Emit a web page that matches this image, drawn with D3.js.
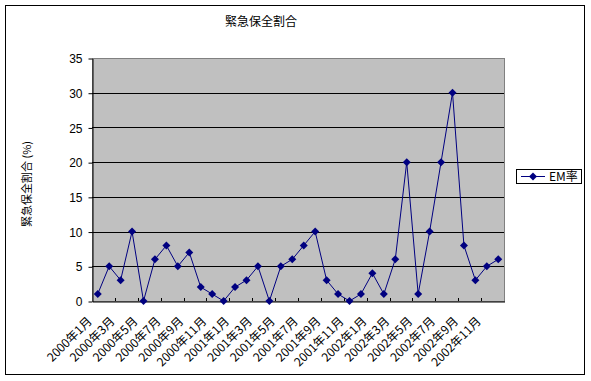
<!DOCTYPE html>
<html><head><meta charset="utf-8">
<script src="https://cdn.jsdelivr.net/npm/d3@7"></script>
<style>
html,body{margin:0;padding:0;background:#fff;}
svg text{font-family:"Noto Sans CJK JP","DejaVu Sans",sans-serif;fill:#000;}
</style></head>
<body><svg id="c" width="591" height="381"></svg>
<script>
const months = [];
const years = ["2000","2001","2002"];
years.forEach(y => { for (let m = 1; m <= 12; m++) months.push(y + "年" + m + "月"); });
const emValues = [1,5,3,10,0,6,8,5,7,2,1,0,2,3,5,0,5,6,8,10,3,1,0,1,4,1,6,20,1,10,20,30,8,3,5,6];
const yTicks = [0,5,10,15,20,25,30,35];
const title = "緊急保全割合";
const yLabel = "緊急保全割合 (%)";
const seriesName = "EM率";

const svg = d3.select("#c");
const L = 92, R = 504, T = 58, B = 301;

svg.append("rect").attr("x",5.5).attr("y",5.5).attr("width",579).attr("height",369)
  .attr("fill","#fff").attr("stroke","#000").attr("stroke-width",1);

const x = d3.scaleBand().domain(months).range([L, R]).padding(0);
const y = d3.scaleLinear().domain([0,35]).range([B, T]);

svg.append("rect").attr("x",L).attr("y",T).attr("width",R-L).attr("height",B-T)
  .attr("fill","#C0C0C0").attr("stroke","#808080").attr("stroke-width",1)
  .attr("transform","translate(0.5,0.5)");

// gridlines
svg.append("g").selectAll("line").data(yTicks.filter(d=>d>0 && d<35)).join("line")
  .attr("x1",L).attr("x2",R).attr("y1",d=>Math.round(y(d))+0.5).attr("y2",d=>Math.round(y(d))+0.5)
  .attr("stroke","#000").attr("stroke-width",1);

// y axis
const yAxis = svg.append("g").attr("transform",`translate(${L+0.5},0.5)`)
  .call(d3.axisLeft(y).tickValues(yTicks).tickSize(4).tickPadding(6).tickSizeOuter(0));
yAxis.select(".domain").attr("stroke","#000");
yAxis.selectAll("line").attr("stroke","#000");
yAxis.selectAll("text").attr("font-size","12px").attr("fill","#000").attr("dy","0.35em")
  .style("font-family","'Liberation Sans','DejaVu Sans',sans-serif");

// x axis
const xAxis = svg.append("g").attr("transform",`translate(0.5,${B+0.5})`)
  .call(d3.axisBottom(x).tickValues([]).tickSizeOuter(0));
xAxis.select(".domain").attr("stroke","#000");
const bw = x.bandwidth();
svg.append("g").selectAll("line").data(months.filter((d,i)=>i%2===0 && i>0)).join("line")
  .attr("x1",d=>Math.round(x(d))+0.5).attr("x2",d=>Math.round(x(d))+0.5)
  .attr("y1",B-3).attr("y2",B).attr("stroke","#000");

// x labels
svg.append("g").selectAll("text").data(months.filter((d,i)=>i%2===0)).join("text")
  .attr("transform",d=>`translate(${x(d)+bw/2-5},${B+21}) rotate(-45)`)
  .attr("text-anchor","end").attr("font-size","12px").text(d=>d);

// line
const line = d3.line().x((d,i)=>x(months[i])+bw/2).y(d=>y(d));
svg.append("path").datum(emValues).attr("d",line).attr("fill","none")
  .attr("stroke","#000080").attr("stroke-width",1);
const diamond = "M0,-4L4,0L0,4L-4,0Z";
svg.append("g").selectAll("path").data(emValues).join("path")
  .attr("d",diamond).attr("transform",(d,i)=>`translate(${x(months[i])+bw/2},${y(d)})`)
  .attr("fill","#000080");

// title
svg.append("text").attr("x",261).attr("y",26).attr("text-anchor","middle")
  .attr("font-size","12px").text(title);
// y label
svg.append("text").attr("transform","translate(31,184) rotate(-90)").attr("text-anchor","middle")
  .attr("font-size","11px").text(yLabel);

// legend
const lg = svg.append("g");
lg.append("rect").attr("x",516.5).attr("y",169.5).attr("width",65).attr("height",14)
  .attr("fill","#fff").attr("stroke","#000");
lg.append("line").attr("x1",521).attr("x2",545).attr("y1",176.5).attr("y2",176.5).attr("stroke","#000080");
lg.append("path").attr("d",diamond).attr("transform","translate(533,176.5)").attr("fill","#000080");
lg.append("text").attr("x",549).attr("y",181).attr("font-size","12px").text(seriesName);
</script></body></html>
